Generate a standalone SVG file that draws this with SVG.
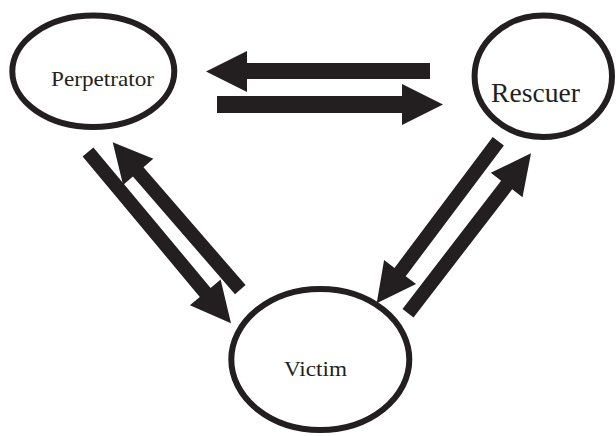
<svg xmlns="http://www.w3.org/2000/svg" width="616" height="436" viewBox="0 0 616 436">
<style>
.node{fill:#fff;stroke:#231f20;stroke-width:6}
.lbl{font-family:"Liberation Serif","Times New Roman",serif;fill:#231f20}
.arrow{fill:#231f20;stroke:none}
</style>
<rect width="616" height="436" fill="#fff"/>
<g id="perpetrator">
<ellipse class="node" cx="93.3" cy="71.3" rx="81" ry="55.7"/>
<text class="lbl" x="51" y="86" font-size="22" textLength="103" lengthAdjust="spacingAndGlyphs">Perpetrator</text>
</g>
<g id="rescuer">
<ellipse class="node" cx="543.3" cy="76.3" rx="68.7" ry="60.7"/>
<text class="lbl" x="491" y="102" font-size="27" textLength="89" lengthAdjust="spacingAndGlyphs">Rescuer</text>
</g>
<g id="victim">
<ellipse class="node" cx="320.3" cy="359.5" rx="89" ry="70.5"/>
<text class="lbl" x="284" y="376" font-size="22" textLength="63" lengthAdjust="spacingAndGlyphs">Victim</text>
</g>
<g id="connectors">
<polygon class="arrow" points="430,63 247,63 247,51 206,71.5 247,92 247,79 430,79"/>
<polygon class="arrow" points="217,96 402,96 402,84 443,104.5 402,125 402,113 217,113"/>
<polygon class="arrow" points="82.6,156.5 199.8,296.9 189.9,305.2 231,323.3 220.6,279.6 210.6,287.9 93.4,147.5"/>
<polygon class="arrow" points="245.6,285.1 143.5,167.2 153.3,158.7 112.7,142.3 123.1,184.9 132.9,176.4 235,294.3"/>
<polygon class="arrow" points="492.7,137 394.5,267.9 384.1,260.1 376.7,303.3 416.1,284.1 405.7,276.3 503.9,145.4"/>
<polygon class="arrow" points="402.5,308.9 501.1,180.7 490.8,172.8 531,153.3 522.5,197.2 512.2,189.3 413.5,317.5"/>
</g>
</svg>
